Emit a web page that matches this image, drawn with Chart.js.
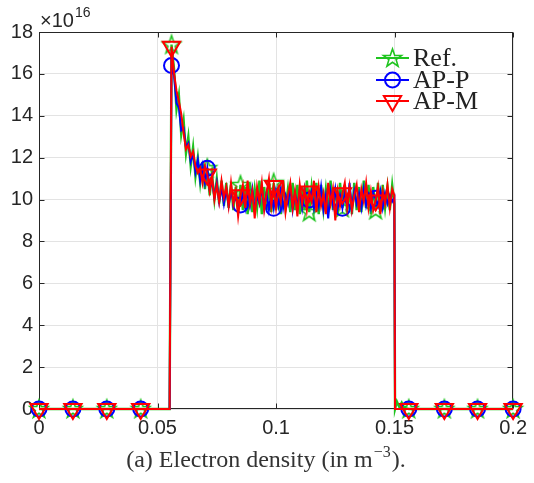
<!DOCTYPE html>
<html>
<head>
<meta charset="utf-8">
<script src="https://cdn.jsdelivr.net/npm/chart.js@4.4.1/dist/chart.umd.min.js"></script>
<style>
  html, body { margin: 0; padding: 0; background: #fff; }
  #wrap { width: 534px; height: 483px; }
</style>
</head>
<body>
<div id="wrap"><canvas id="density" width="534" height="483"></canvas></div>
<script>
// x positions (m), shared by the three curves
const xs = [
  0, 0.0143, 0.0286, 0.0429, 0.0551, 0.0559,
  0.057, 0.058, 0.059, 0.060, 0.061, 0.062, 0.063, 0.064, 0.065, 0.066,
  0.067, 0.068, 0.069, 0.070, 0.071, 0.072, 0.073, 0.074, 0.075, 0.076,
  0.077, 0.078, 0.079, 0.080, 0.081, 0.082, 0.083, 0.084, 0.085, 0.086,
  0.087, 0.088, 0.089, 0.090, 0.091, 0.092, 0.093, 0.094, 0.095, 0.096,
  0.097, 0.098, 0.099, 0.100, 0.101, 0.102, 0.103, 0.104, 0.105, 0.106,
  0.107, 0.108, 0.109, 0.110, 0.111, 0.112, 0.113, 0.114, 0.115, 0.116,
  0.117, 0.118, 0.119, 0.120, 0.121, 0.122, 0.123, 0.124, 0.125, 0.126,
  0.127, 0.128, 0.129, 0.130, 0.131, 0.132, 0.133, 0.134, 0.135, 0.136,
  0.137, 0.138, 0.139, 0.140, 0.141, 0.142, 0.143, 0.144, 0.145, 0.146,
  0.147, 0.148, 0.149,
  0.1499, 0.1502, 0.151, 0.152, 0.153, 0.154, 0.156, 0.171, 0.185, 0.2
];

// electron density, units of 1e16 m^-3
const refY = [
  0, 0, 0, 0, 0, 17.4,
  16.2, 14.3, 15.0, 13.1, 13.8, 12.2, 13.0, 11.6, 12.5, 11.1,
  12.0, 10.8, 11.8, 10.5, 11.5, 10.2, 11.2, 10.0, 11.0, 9.8,
  10.9, 9.7, 10.8, 9.6, 10.7, 9.5, 10.6, 9.4, 10.7, 9.5,
  10.6, 9.3, 10.8, 9.4, 10.5, 9.6, 10.9, 9.3, 10.6, 9.5,
  10.7, 9.4, 10.8, 9.5, 10.6, 9.3, 10.9, 9.6, 10.5, 9.4,
  10.8, 9.5, 10.7, 9.3, 10.6, 9.5, 10.9, 9.4, 10.6, 9.6,
  10.8, 9.3, 10.7, 9.5, 10.5, 9.4, 10.9, 9.5, 10.6, 9.3,
  10.8, 9.6, 10.7, 9.4, 10.5, 9.3, 10.8, 9.5, 10.6, 9.4,
  10.9, 9.6, 10.7, 9.3, 10.6, 9.5, 10.8, 9.4, 10.7, 9.6,
  10.6, 9.5, 10.7,
  9.8, 0, 0.35, 0.1, 0.3, 0.05, 0, 0, 0, 0
];
const appY = [
  0, 0, 0, 0, 0, 16.4,
  15.9, 14.6, 14.4, 13.3, 13.4, 12.5, 12.7, 11.8, 12.2, 11.3,
  11.9, 10.9, 11.6, 10.8, 11.5, 10.5, 10.9, 10.1, 10.8, 9.9,
  10.6, 9.8, 10.5, 9.7, 10.4, 9.9, 10.3, 9.6, 9.74, 10.3,
  9.6, 10.4, 9.7, 10.5, 9.5, 10.2, 9.8, 10.6, 9.6, 10.3,
  9.5, 10.2, 9.58, 10.4, 9.7, 10.5, 9.6, 10.2, 9.8, 10.6,
  9.5, 10.3, 9.7, 10.4, 9.6, 10.5, 9.8, 9.98, 10.4, 9.6,
  10.3, 9.7, 10.6, 9.5, 10.2, 9.1, 10.4, 9.7, 10.5, 9.6,
  10.2, 9.58, 10.3, 9.7, 10.8, 9.6, 10.4, 9.8, 10.3, 9.6,
  10.5, 9.7, 10.2, 9.6, 10.3, 10.06, 9.7, 10.4, 9.6, 10.3,
  9.8, 10.2, 9.9,
  10.1, 0, 0, 0, 0, 0, 0, 0, 0, 0
];
const apmY = [
  0, 0, 0, 0, 0, 17.3,
  16.0, 15.2, 14.7, 14.1, 13.2, 12.4, 12.6, 12.05, 12.3, 11.6,
  11.27, 11.5, 10.8, 11.6, 11.2, 10.4, 11.1, 10.0, 10.7, 9.9,
  10.9, 10.1, 10.6, 9.7, 10.8, 9.8, 10.4, 9.2, 10.2, 10.7,
  9.6, 10.9, 9.8, 10.4, 9.1, 10.6, 9.9, 10.8, 9.5, 10.3,
  11.0, 9.7, 10.65, 9.6, 10.5, 9.9, 10.9, 9.4, 10.2, 10.8,
  9.6, 10.4, 9.2, 10.7, 9.8, 10.5, 9.5, 10.38, 9.9, 10.9,
  9.4, 10.6, 9.7, 10.3, 9.3, 10.8, 9.8, 10.5, 9.0, 10.4,
  9.7, 10.3, 10.8, 9.6, 10.6, 9.5, 10.2, 10.7, 9.4, 10.5,
  9.9, 10.8, 9.6, 10.4, 9.5, 9.95, 10.6, 9.3, 10.4, 9.8,
  10.7, 9.6, 10.5,
  10.2, 0, 0, 0, 0, 0, 0, 0, 0, 0
];

// where the markers sit
const markerXs = [0, 0.0143, 0.0286, 0.0429, 0.0559, 0.071, 0.085, 0.099, 0.114, 0.128, 0.142, 0.156, 0.171, 0.185, 0.2];

const seriesNames = ['Ref.', 'AP-P', 'AP-M'];
const xTickVals = [0, 0.05, 0.1, 0.15, 0.2];
const yTickVals = [0, 2, 4, 6, 8, 10, 12, 14, 16, 18];

const GREEN = '#1fc41f';
const BLUE = '#0000ff';
const RED = '#ff0000';
const AXIS = '#262626';
const GRID = '#e3e3e3';

function pathStar(ctx, cx, cy, R) {
  const r = R * 0.4;
  ctx.beginPath();
  for (let i = 0; i < 10; i++) {
    const rad = i % 2 === 0 ? R : r;
    const a = -Math.PI / 2 + i * Math.PI / 5;
    const px = cx + rad * Math.cos(a);
    const py = cy + rad * Math.sin(a);
    if (i === 0) ctx.moveTo(px, py); else ctx.lineTo(px, py);
  }
  ctx.closePath();
}

function pathTriDown(ctx, cx, cy, R) {
  const s = R * Math.sin(Math.PI / 3);
  ctx.beginPath();
  ctx.moveTo(cx, cy + R);
  ctx.lineTo(cx - s, cy - R / 2);
  ctx.lineTo(cx + s, cy - R / 2);
  ctx.closePath();
}

// pentagram marker as a small canvas
const starImg = document.createElement('canvas');
starImg.width = 24;
starImg.height = 24;
(function () {
  const c = starImg.getContext('2d');
  c.strokeStyle = GREEN;
  c.lineWidth = 1.6;
  pathStar(c, 12, 12.5, 9.5);
  c.stroke();
})();

function isMarker(ctx) {
  return markerXs.indexOf(xs[ctx.dataIndex]) !== -1;
}

function toPoints(ys) {
  let pts = [];
  for (let i = 0; i < xs.length; i++) {
    pts.push({ x: xs[i], y: ys[i] });
  }
  return pts;
}

const framePlugin = {
  id: 'frame',
  beforeDatasetsDraw(chart) {
    const ctx = chart.ctx;
    const { left, right, top, bottom } = chart.chartArea;
    const sx = chart.scales.x, sy = chart.scales.y;
    const L = Math.round(left) + 0.5, R = Math.round(right) - 0.5;
    const T = Math.round(top) + 0.5, B = Math.round(bottom) - 0.5;
    ctx.save();
    ctx.strokeStyle = AXIS;
    ctx.lineWidth = 1;
    ctx.strokeRect(L, T, R - L, B - T);
    ctx.beginPath();
    xTickVals.forEach(v => {
      const px = Math.round(sx.getPixelForValue(v)) + 0.5;
      ctx.moveTo(px, B); ctx.lineTo(px, B - 5);
      ctx.moveTo(px, T); ctx.lineTo(px, T + 5);
    });
    yTickVals.forEach(v => {
      const py = Math.round(sy.getPixelForValue(v)) + 0.5;
      ctx.moveTo(L, py); ctx.lineTo(L + 5, py);
      ctx.moveTo(R, py); ctx.lineTo(R - 5, py);
    });
    ctx.stroke();
    ctx.restore();
  },
  afterDraw(chart) {
    const ctx = chart.ctx;
    ctx.save();
    // exponent label
    ctx.fillStyle = AXIS;
    ctx.textBaseline = 'alphabetic';
    ctx.textAlign = 'left';
    ctx.font = '20px "Liberation Sans"';
    ctx.fillText('\u00d710', 40, 27);
    const w = ctx.measureText('\u00d710').width;
    ctx.font = '14px "Liberation Sans"';
    ctx.fillText('16', 40 + w + 1, 17);

    // legend
    const colors = [GREEN, BLUE, RED];
    const rowsY = [58, 80, 101];
    for (let i = 0; i < 3; i++) {
      const y = rowsY[i];
      ctx.strokeStyle = colors[i];
      ctx.lineWidth = 2;
      ctx.beginPath();
      ctx.moveTo(376, y); ctx.lineTo(409, y);
      ctx.stroke();
      if (i === 0) {
        ctx.lineWidth = 1.6;
        pathStar(ctx, 392.5, y + 0.5, 9.5);
        ctx.stroke();
      } else if (i === 1) {
        ctx.beginPath();
        ctx.arc(392.5, y, 7.5, 0, Math.PI * 2);
        ctx.stroke();
      } else {
        pathTriDown(ctx, 392.5, y, 10);
        ctx.stroke();
      }
      ctx.fillStyle = '#222';
      ctx.font = '26px "Liberation Serif"';
      ctx.textBaseline = 'middle';
      ctx.fillText(seriesNames[i], 413, y + 1);
    }

    // caption
    const main = '(a) Electron density (in m';
    const sup = '\u22123';
    const tail = ').';
    const big = '24px "Liberation Serif"', small = '16px "Liberation Serif"';
    ctx.fillStyle = '#333';
    ctx.textBaseline = 'alphabetic';
    ctx.font = big;
    const w1 = ctx.measureText(main).width;
    const w3 = ctx.measureText(tail).width;
    ctx.font = small;
    const w2 = ctx.measureText(sup).width;
    const x0 = 265 - (w1 + w2 + w3) / 2;
    ctx.font = big;
    ctx.fillText(main, x0, 467);
    ctx.font = small;
    ctx.fillText(sup, x0 + w1 + 1, 457);
    ctx.font = big;
    ctx.fillText(tail, x0 + w1 + w2 + 2, 467);
    ctx.restore();
  }
};

const ctx = document.getElementById('density');
new Chart(ctx, {
  type: 'line',
  data: {
    datasets: [{
      label: seriesNames[0],
      data: toPoints(refY),
      borderColor: GREEN,
      backgroundColor: 'rgba(0,0,0,0)',
      borderWidth: 2.4,
      pointStyle: starImg,
      pointRadius: c => isMarker(c) ? 8 : 0,
      order: 2,
      clip: false
    }, {
      label: seriesNames[1],
      data: toPoints(appY),
      borderColor: BLUE,
      backgroundColor: 'rgba(0,0,0,0)',
      borderWidth: 2,
      pointStyle: 'circle',
      pointRadius: c => isMarker(c) ? 7.5 : 0,
      pointBorderWidth: 2,
      pointBorderColor: BLUE,
      pointBackgroundColor: 'rgba(0,0,0,0)',
      order: 1,
      clip: false
    }, {
      label: seriesNames[2],
      data: toPoints(apmY),
      borderColor: RED,
      backgroundColor: 'rgba(0,0,0,0)',
      borderWidth: 2,
      pointStyle: 'triangle',
      pointRotation: 180,
      pointRadius: c => isMarker(c) ? 10 : 0,
      pointBorderWidth: 2,
      pointBorderColor: RED,
      pointBackgroundColor: 'rgba(0,0,0,0)',
      order: 0,
      clip: false
    }]
  },
  options: {
    responsive: false,
    animation: false,
    events: [],
    layout: {
      padding: { top: 32, right: 17, left: 0, bottom: 0 }
    },
    plugins: {
      legend: { display: false },
      tooltip: { enabled: false }
    },
    elements: {
      line: { tension: 0 }
    },
    scales: {
      x: {
        type: 'linear',
        min: 0,
        max: 0.2,
        afterBuildTicks: s => { s.ticks = xTickVals.map(v => ({ value: v })); },
        afterFit: s => { s.height = 74; },
        grid: { color: GRID, drawTicks: false },
        border: { display: false },
        ticks: {
          autoSkip: false,
          maxRotation: 0,
          padding: 7,
          color: AXIS,
          font: { family: 'Liberation Sans', size: 20 },
          callback: v => String(v)
        }
      },
      y: {
        type: 'linear',
        min: 0,
        max: 18,
        afterBuildTicks: s => { s.ticks = yTickVals.map(v => ({ value: v })); },
        afterFit: s => { s.width = 39; },
        grid: { color: GRID, drawTicks: false },
        border: { display: false },
        ticks: {
          autoSkip: false,
          padding: 6,
          color: AXIS,
          font: { family: 'Liberation Sans', size: 20 },
          callback: v => String(v)
        }
      }
    }
  },
  plugins: [framePlugin]
});
</script>
</body>
</html>
